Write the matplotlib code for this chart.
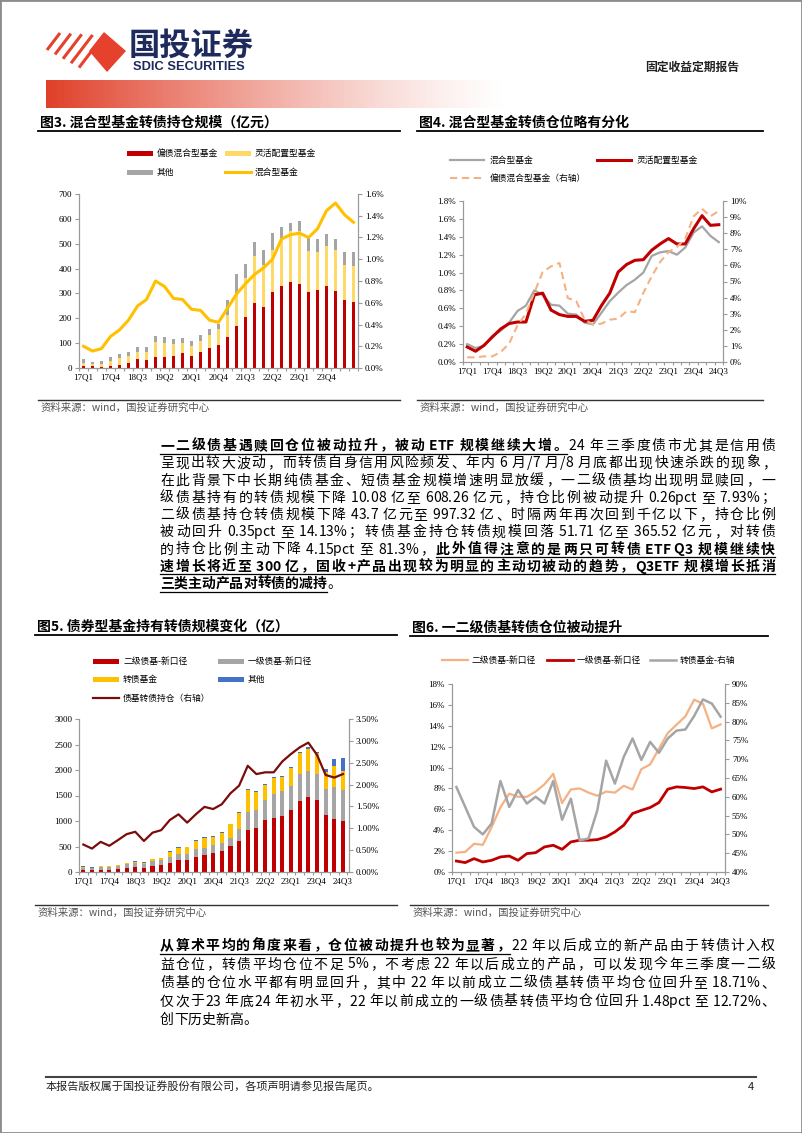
import numpy as np
import matplotlib
matplotlib.use('Agg')
import matplotlib.pyplot as plt
from matplotlib.patches import Rectangle, Polygon
from matplotlib.lines import Line2D
from matplotlib.font_manager import FontProperties
from matplotlib.ticker import FuncFormatter, MultipleLocator

# 页面尺寸（像素）
W, H = 802, 1133
CJK = ['Noto Sans CJK SC', 'DejaVu Sans']
SERIF = ['Liberation Serif', 'DejaVu Serif']
plt.rcParams['font.family'] = CJK

# ---------------- 数据 ----------------
quarters = ['17Q1', '17Q2', '17Q3', '17Q4', '18Q1', '18Q2', '18Q3', '18Q4',
            '19Q1', '19Q2', '19Q3', '19Q4', '20Q1', '20Q2', '20Q3', '20Q4',
            '21Q1', '21Q2', '21Q3', '21Q4', '22Q1', '22Q2', '22Q3', '22Q4',
            '23Q1', '23Q2', '23Q3', '23Q4', '24Q1', '24Q2', '24Q3']

# 图3 混合型基金转债持仓规模（亿元）
mix_bond_amt = [10, 7, 6, 7, 12, 20, 35, 33, 43, 43, 50, 60, 50, 64, 80, 93,
                125, 170, 204, 260, 247, 304, 331, 344, 338, 304, 312, 331, 311, 275, 264]
flex_amt = [12, 8, 12, 21, 28, 28, 30, 32, 62, 57, 47, 40, 38, 46, 52, 62,
            87, 125, 158, 189, 169, 172, 192, 206, 212, 165, 153, 161, 165, 141, 148]
other_amt = [13, 10, 12, 17, 15, 17, 20, 20, 25, 24, 20, 22, 19, 24, 23, 20,
             63, 83, 58, 58, 60, 67, 43, 32, 40, 54, 54, 47, 43, 49, 53]
mix_pos = [0.20, 0.156, 0.178, 0.29, 0.35, 0.44, 0.57, 0.63, 0.80, 0.75, 0.64, 0.63,
           0.54, 0.53, 0.44, 0.42, 0.55, 0.68, 0.775, 0.86, 0.92, 1.00, 1.186, 1.226,
           1.24, 1.20, 1.28, 1.447, 1.517, 1.41, 1.34]

# 图4 仓位（%）
flex_pos = [0.168, 0.12, 0.186, 0.28, 0.37, 0.43, 0.447, 0.447, 0.75, 0.77, 0.58, 0.53,
            0.51, 0.51, 0.455, 0.466, 0.63, 0.77, 1.006, 1.09, 1.137, 1.144, 1.25, 1.32,
            1.38, 1.32, 1.32, 1.49, 1.636, 1.528, 1.535]
bond_mix_pos = [0.29, 0.29, 0.35, 0.35, 0.62, 1.14, 2.28, 3.0, 4.3, 5.59, 5.94, 6.15,
                3.97, 3.79, 2.63, 2.34, 2.38, 2.63, 2.69, 3.15, 3.1, 4.29, 5.32, 6.21,
                6.83, 7.14, 7.66, 9.05, 9.52, 9.05, 9.38]

# 图5 债券型基金持有转债规模（亿）
second_amt = [40, 30, 40, 35, 55, 80, 95, 85, 115, 130, 170, 235, 240, 295, 330, 374,
              407, 505, 610, 833, 853, 1017, 1050, 1096, 1214, 1391, 1463, 1411, 1115, 1041, 997]
first_amt = [45, 40, 50, 55, 60, 75, 80, 70, 100, 105, 120, 120, 115, 150, 150, 164,
             164, 164, 230, 335, 361, 394, 479, 498, 472, 532, 519, 512, 506, 618, 608]
cbfund_amt = [20, 15, 20, 20, 25, 25, 30, 30, 40, 40, 110, 115, 130, 165, 190, 151,
              197, 263, 321, 440, 361, 295, 321, 276, 348, 406, 426, 406, 347, 417, 366]
others_amt = [5, 5, 8, 8, 5, 5, 6, 5, 5, 5, 12, 12, 12, 13, 14, 12,
              15, 15, 15, 20, 20, 20, 20, 20, 20, 26, 40, 20, 46, 140, 265]
bond_pos = [0.628, 0.536, 0.69, 0.60, 0.73, 0.865, 0.92, 0.71, 0.90, 0.957, 1.19, 1.32,
            1.13, 1.32, 1.49, 1.44, 1.55, 1.80, 1.975, 2.43, 2.24, 2.28, 2.28, 2.53,
            2.70, 2.85, 2.96, 2.68, 2.22, 2.16, 2.24]

# 图6 一二级债基转债仓位（%）
second_pos = [1.85, 1.92, 2.7, 2.6, 4.3, 6.2, 7.5, 7.2, 7.2, 7.7, 8.4, 9.4,
              6.6, 7.9, 8.0, 7.6, 7.3, 7.7, 7.6, 8.25, 7.9, 9.85, 10.3, 11.8,
              13.3, 14.1, 14.9, 16.5, 16.1, 13.75, 14.13]
first_pos = [1.05, 0.9, 1.28, 0.96, 1.12, 1.44, 1.53, 1.12, 1.76, 1.85, 2.4, 2.56,
             2.17, 2.88, 3.04, 3.04, 3.1, 3.36, 3.84, 4.48, 5.6, 5.9, 6.17, 6.65,
             7.93, 8.15, 8.09, 7.99, 8.15, 7.67, 7.93]
cbfund_pos = [62.6, 57.3, 52.0, 50.0, 52.9, 64.2, 57.3, 61.8, 58.2, 60.0, 58.2, 64.2,
              53.9, 59.5, 48.4, 48.9, 56.4, 69.6, 63.5, 70.6, 75.5, 69.8, 74.6, 71.7,
              75.5, 77.6, 77.9, 81.5, 85.9, 84.8, 81.3]

para1 = [
    [('一二级债基遇赎回仓位被动拉升，被动 ETF 规模继续大增。', True), ('24 年三季度债市尤其是信用债', False)],
    [('呈现出较大波动，而转债自身信用风险频发、年内 6 月/7 月/8 月底都出现快速杀跌的现象，', False)],
    [('在此背景下中长期纯债基金、短债基金规模增速明显放缓，一二级债基均出现明显赎回，一', False)],
    [('级债基持有的转债规模下降 10.08 亿至 608.26 亿元，持仓比例被动提升 0.26pct 至 7.93%；', False)],
    [('二级债基持仓转债规模下降 43.7 亿元至 997.32 亿、时隔两年再次回到千亿以下，持仓比例', False)],
    [('被动回升 0.35pct 至 14.13%；转债基金持仓转债规模回落 51.71 亿至 365.52 亿元，对转债', False)],
    [('的持仓比例主动下降 4.15pct 至 81.3%，', False), ('此外值得注意的是两只可转债 ETF Q3 规模继续快', True)],
    [('速增长将近至 300 亿，固收+产品出现较为明显的主动切被动的趋势，Q3ETF 规模增长抵消', True)],
    [('三类主动产品对转债的减持', True), ('。', False)],
]
para2 = [
    [('从算术平均的角度来看，仓位被动提升也较为显著，', True), ('22 年以后成立的新产品由于转债计入权', False)],
    [('益仓位，转债平均仓位不足 5%，不考虑 22 年以后成立的产品，可以发现今年三季度一二级', False)],
    [('债基的仓位水平都有明显回升，其中 22 年以前成立二级债基转债平均仓位回升至 18.71%、', False)],
    [('仅次于23 年底24 年初水平，22 年以前成立的一级债基转债平均仓位回升 1.48pct 至 12.72%、', False)],
    [('创下历史新高。', False)],
]

# ---------------- 画布 ----------------
fig = plt.figure(figsize=(W / 100, H / 100), dpi=100)
renderer = fig.canvas.get_renderer()


def fx(x):
    return x / W


def fy(y):
    return 1 - y / H


def rect(x0, y0, x1, y1):
    return [fx(x0), fy(y1), (x1 - x0) / W, (y1 - y0) / H]


def hline(x0, x1, y, color='black', lw=1.0, ls='-'):
    fig.add_artist(Line2D([fx(x0), fx(x1)], [fy(y), fy(y)], transform=fig.transFigure,
                          color=color, lw=lw, ls=ls))


# 页面边框
fig.add_artist(Rectangle((0, 0), 1, 1, transform=fig.transFigure, fill=False,
                         ec='#8c8c8c', lw=2))

# 页眉 logo
red = '#E5412D'
fig.add_artist(Polygon([(fx(104), fy(32)), (fx(126), fy(51)), (fx(107), fy(72)), (fx(89), fy(51))],
                       closed=True, transform=fig.transFigure, color=red, lw=0))
for k in range(5):
    bx, by = 47 + 8 * k, 50 + 4.4 * k
    t = 1 + 0.22 * k
    fig.add_artist(Line2D([fx(bx), fx(bx + 13 * t)], [fy(by), fy(by - 17 * t)],
                          transform=fig.transFigure, color=red, lw=2.2, solid_capstyle='butt'))
fig.text(fx(129), fy(46), '国投证券', fontsize=22.5, fontweight='bold', color='#1F2A5C',
         va='center', ha='left')
fig.text(fx(133), fy(67), 'SDIC SECURITIES', fontsize=9.3, fontweight='bold', color='#1F2A5C',
         family=['Liberation Sans', 'DejaVu Sans'], va='center', ha='left')
fig.text(fx(645), fy(67), '固定收益定期报告', fontsize=8.5, fontweight='bold', color='#222222',
         va='center', ha='left')

# 红色渐变条
gax = fig.add_axes(rect(46, 80, 510, 108))
grad = np.zeros((1, 256, 4))
grad[..., 0], grad[..., 1], grad[..., 2] = 0.88, 0.25, 0.16
grad[..., 3] = np.clip(1 - np.linspace(0, 1, 256), 0, 1) ** 1.3
gax.imshow(grad, aspect='auto', extent=[0, 1, 0, 1])
gax.axis('off')

AXC = '#9A9A9A'
x = np.arange(len(quarters))


def style_axes(ax, axr, xlim, label_idx):
    for a in (ax, axr):
        a.spines['top'].set_visible(False)
        for s in ('left', 'right', 'bottom'):
            a.spines[s].set_color(AXC)
            a.spines[s].set_linewidth(0.8)
        a.tick_params(axis='y', labelsize=6.5, length=3, width=0.8, color=AXC,
                      labelfontfamily=SERIF, pad=2)
    ax.set_xlim(*xlim)
    ax.set_xticks(label_idx)
    ax.set_xticklabels([quarters[i] for i in label_idx])
    ax.set_xticks(np.arange(-0.5, len(quarters), 1), minor=True)
    ax.tick_params(axis='x', which='major', length=0, labelsize=6.5, labelfontfamily=SERIF, pad=4)
    ax.tick_params(axis='x', which='minor', length=2.5, width=0.8, color=AXC)


def title(x0, x1, y, text):
    fig.text(fx(x0 + 2), fy(y - 8), text, fontsize=10, fontweight='bold', va='center', ha='left')
    hline(x0, x1, y, lw=1.3)


def source(x0, x1, y):
    hline(x0, x1, y, color='#333333', lw=1.0)
    fig.text(fx(x0 + 3), fy(y + 8), '资料来源：wind，国投证券研究中心', fontsize=7.5,
             color='#555555', style='italic', va='center', ha='left')


def leg_patch(xp, yp, color, label):
    fig.add_artist(Rectangle((fx(xp), fy(yp + 2.5)), 26 / W, 5 / H, transform=fig.transFigure,
                             color=color, lw=0))
    fig.text(fx(xp + 30), fy(yp), label, fontsize=6.3, va='center', ha='left')


def leg_line(xp, yp, color, label, length=26, lw=2.0, dashes=None, gap=4):
    ln = Line2D([fx(xp), fx(xp + length)], [fy(yp), fy(yp)], transform=fig.transFigure,
                color=color, lw=lw)
    if dashes:
        ln.set_dashes(dashes)
    fig.add_artist(ln)
    fig.text(fx(xp + length + gap), fy(yp), label, fontsize=6.3, va='center', ha='left')


pct1 = FuncFormatter(lambda v, p: f'{v:.1f}%')
pct0 = FuncFormatter(lambda v, p: f'{v:.0f}%')
pct2 = FuncFormatter(lambda v, p: f'{v:.2f}%')

# ---------------- 图3 ----------------
title(38, 400, 131, '图3. 混合型基金转债持仓规模（亿元）')
ax3 = fig.add_axes(rect(79, 194, 358, 368))
b1 = np.array(mix_bond_amt)
b2 = b1 + np.array(flex_amt)
ax3.bar(x, mix_bond_amt, width=0.42, color='#C00000')
ax3.bar(x, flex_amt, bottom=b1, width=0.42, color='#FFD966')
ax3.bar(x, other_amt, bottom=b2, width=0.42, color='#A5A5A5')
ax3.set_ylim(0, 700)
ax3.yaxis.set_major_locator(MultipleLocator(100))
ax3r = ax3.twinx()
ax3r.plot(x, mix_pos, color='#FFC000', lw=2.2, solid_joinstyle='round')
ax3r.set_ylim(0, 1.6)
ax3r.yaxis.set_major_locator(MultipleLocator(0.2))
ax3r.yaxis.set_major_formatter(pct1)
style_axes(ax3, ax3r, (-0.5, 30.5), list(range(0, 30, 3)))
leg_patch(127, 153, '#C00000', '偏债混合型基金')
leg_patch(225, 153, '#FFD966', '灵活配置型基金')
leg_patch(127, 172, '#A5A5A5', '其他')
leg_line(225, 172, '#FFC000', '混合型基金', lw=2.2)
source(38, 400, 400)

# ---------------- 图4 ----------------
title(417, 763, 131, '图4. 混合型基金转债仓位略有分化')
ax4 = fig.add_axes(rect(463, 201, 723, 362))
ax4.plot(x, mix_pos, color='#A5A5A5', lw=1.6)
ax4.plot(x, flex_pos, color='#C00000', lw=2.2)
ax4.set_ylim(0, 1.8)
ax4.yaxis.set_major_locator(MultipleLocator(0.2))
ax4.yaxis.set_major_formatter(pct1)
ax4r = ax4.twinx()
ax4r.plot(x, bond_mix_pos, color='#F4B183', lw=1.5, dashes=(3.5, 2.2))
ax4r.set_ylim(0, 10)
ax4r.yaxis.set_major_locator(MultipleLocator(1))
ax4r.yaxis.set_major_formatter(pct0)
style_axes(ax4, ax4r, (-0.3, 30.3), list(range(0, 31, 3)))
leg_line(450, 160, '#A5A5A5', '混合型基金', length=34, lw=1.6, gap=6)
leg_line(597, 160, '#C00000', '灵活配置型基金', length=34, lw=2.2, gap=6)
leg_line(450, 178, '#F4B183', '偏债混合型基金（右轴）', length=34, lw=1.5, dashes=(3.5, 2.2), gap=6)
source(417, 763, 400)

# ---------------- 正文段落 ----------------
_adv = {}


def adv(ch, prop):
    key = (ch, prop.get_weight(), prop.get_size())
    if key not in _adv:
        w1 = renderer.get_text_width_height_descent('中' + ch + '中', prop, ismath=False)[0]
        w0 = renderer.get_text_width_height_descent('中中', prop, ismath=False)[0]
        _adv[key] = w1 - w0
    return _adv[key]


PUNCT = '，。、；：'


def body_line(segs, y, justify=True, x0=160, x1=775, size=10):
    items = []
    for txt, strong in segs:
        prop = FontProperties(family=CJK, size=size, weight='bold' if strong else 'normal')
        for ch in txt:
            items.append((ch, prop, strong, adv(ch, prop)))
    total = sum(it[3] for it in items)
    # 只在含中文字符的相邻位置拉伸，西文数字保持紧凑
    stretch = [not (items[i][0].isascii() and items[i + 1][0].isascii())
               for i in range(len(items) - 1)]
    n_st = max(sum(stretch), 1)
    gap = (x1 - x0 - total) / n_st if justify else 0
    xc = x0
    ul = []
    for i, (ch, prop, strong, w) in enumerate(items):
        if ch != ' ':
            if ch in PUNCT:
                fig.text(fx(xc + 0.5), fy(y), ch, fontproperties=prop, ha='left', va='baseline')
            else:
                fig.text(fx(xc + w / 2), fy(y), ch, fontproperties=prop, ha='center', va='baseline')
        if strong:
            ul.append((xc, xc + w))
        xc += w
        if i < len(stretch) and stretch[i]:
            xc += gap
    if ul:
        hline(ul[0][0], ul[-1][1], y + 3.5, lw=0.9)


for i, segs in enumerate(para1):
    body_line(segs, 450 + 17.25 * i, justify=(i < len(para1) - 1))
for i, segs in enumerate(para2):
    body_line(segs, 950 + 18.5 * i, justify=(i < len(para2) - 1))

# ---------------- 图5 ----------------
title(35, 397, 635, '图5. 债券型基金持有转债规模变化（亿）')
ax5 = fig.add_axes(rect(79, 719, 349, 872))
s1 = np.array(second_amt)
s2 = s1 + np.array(first_amt)
s3 = s2 + np.array(cbfund_amt)
ax5.bar(x, second_amt, width=0.48, color='#C00000')
ax5.bar(x, first_amt, bottom=s1, width=0.48, color='#A5A5A5')
ax5.bar(x, cbfund_amt, bottom=s2, width=0.48, color='#FFC000')
ax5.bar(x, others_amt, bottom=s3, width=0.48, color='#4472C4')
ax5.set_ylim(0, 3000)
ax5.yaxis.set_major_locator(MultipleLocator(500))
ax5r = ax5.twinx()
ax5r.plot(x, bond_pos, color='#7B0C0C', lw=1.6)
ax5r.set_ylim(0, 3.5)
ax5r.yaxis.set_major_locator(MultipleLocator(0.5))
ax5r.yaxis.set_major_formatter(pct2)
style_axes(ax5, ax5r, (-0.5, 30.7), list(range(0, 31, 3)))
leg_patch(93, 661, '#C00000', '二级债基-新口径')
leg_patch(218, 661, '#A5A5A5', '一级债基-新口径')
leg_patch(93, 679, '#FFC000', '转债基金')
leg_patch(218, 679, '#4472C4', '其他')
leg_line(93, 698, '#7B0C0C', '债基转债持仓（右轴）', lw=1.6)
source(35, 397, 905)

# ---------------- 图6 ----------------
title(410, 768, 636, '图6. 一二级债基转债仓位被动提升')
ax6 = fig.add_axes(rect(452, 684, 725, 872))
ax6.plot(x, second_pos, color='#F4B183', lw=1.6)
ax6.plot(x, first_pos, color='#C00000', lw=2.0)
ax6.set_ylim(0, 18)
ax6.yaxis.set_major_locator(MultipleLocator(2))
ax6.yaxis.set_major_formatter(pct0)
ax6r = ax6.twinx()
ax6r.plot(x, cbfund_pos, color='#A5A5A5', lw=1.8)
ax6r.set_ylim(40, 90)
ax6r.yaxis.set_major_locator(MultipleLocator(5))
ax6r.yaxis.set_major_formatter(pct0)
style_axes(ax6, ax6r, (-0.45, 30.45), list(range(0, 31, 3)))
leg_line(442, 660, '#F4B183', '二级债基-新口径', lw=1.6)
leg_line(547, 660, '#C00000', '一级债基-新口径', lw=2.0)
leg_line(650, 660, '#A5A5A5', '转债基金-右轴', lw=1.8)
source(410, 768, 905)

# ---------------- 页脚 ----------------
hline(46, 756, 1077, color='#444444', lw=1.5)
fig.text(fx(46), fy(1087), '本报告版权属于国投证券股份有限公司，各项声明请参见报告尾页。',
         fontsize=8, va='center', ha='left', color='#222222')
fig.text(fx(748), fy(1087), '4', fontsize=8, va='center', ha='left', color='#222222')

fig.savefig('out.png', dpi=100)
